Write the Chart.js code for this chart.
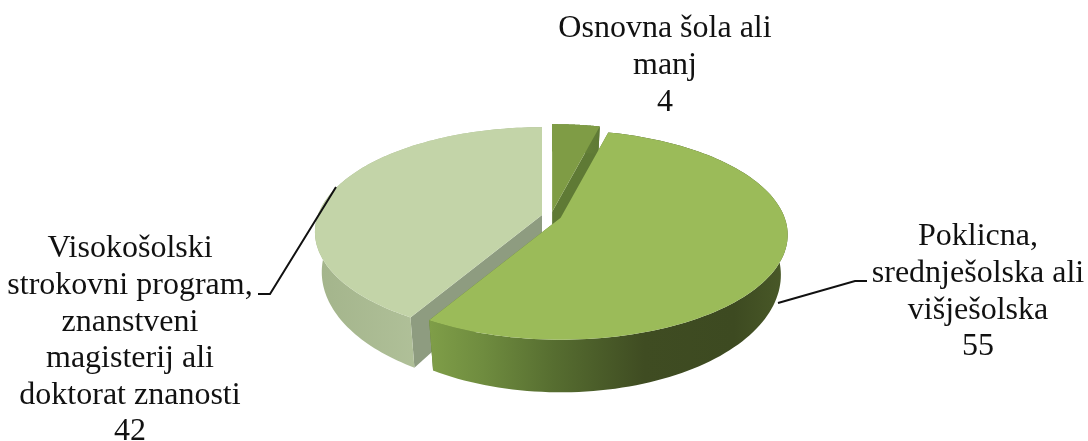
<!DOCTYPE html>
<html>
<head>
<meta charset="utf-8">
<style>
  html, body { margin: 0; padding: 0; background: #fff; }
  #wrap { width: 1088px; height: 441px; }
</style>
<script src="https://cdn.jsdelivr.net/npm/chart.js@4"></script>
</head>
<body>
<div id="wrap"><canvas id="pie" width="1088" height="441"></canvas></div>
<script>
const categories = ['Osnovna šola ali manj', 'Poklicna, srednješolska ali višješolska', 'Visokošolski strokovni program, znanstveni magisterij ali doktorat znanosti'];
const values = [4, 55, 42];
const labelLines = [
  ['Osnovna šola ali', 'manj'],
  ['Poklicna,', 'srednješolska ali', 'višješolska'],
  ['Visokošolski', 'strokovni program,', 'znanstveni', 'magisterij ali', 'doktorat znanosti']
];
const topColors = ['#7f9c45', '#9bbb59', '#c3d4a8'];
const faceColors = ['#5f7a35', '#5f7a35', '#8e9c80'];
const sideStops = [
  [[0, '#6d8a3c'], [1, '#5f7a35']],
  [[0, '#7f9e48'], [0.15, '#6f8c3f'], [0.35, '#566d30'], [0.6, '#3f4c22'], [0.85, '#3d4a21'], [1, '#4a5a28']],
  [[0, '#a3b48b'], [0.6, '#b4c49d'], [1, '#a6b692']]
];
const explode = [9, 10, 9];

// where each label block sits and where its leader line runs
const labelPos = [
  { x: 665, y: 29 },
  { x: 978, y: 237 },
  { x: 130, y: 249 }
];
const leaders = [
  null,
  [[778, 303], [855, 281], [867, 281]],
  [[336, 187], [270, 294], [258, 294]]
];

// tilted pie with a bit of perspective
const view = { cx: 551, cy: 216, a: 224, b: 102, p: 0.163, depth: 38, kx: 0.97, ky: 1.12 };
const lineHeight = 36.6;

function project(u, v, bottom){
  const w = 1 - view.p * v;
  const X = view.a * u / w;
  const Y = view.b * v / w;
  return bottom
    ? [X * view.kx, Y * view.ky + view.depth]
    : [X, Y];
}

function rimPoint(ox, oy, angle, bottom){
  // apex of an exploded slice is moved in the disc plane, the rim moves with it on screen
  const [ax, ay] = project(ox, oy, false);
  const [x, y] = project(Math.cos(angle), Math.sin(angle), bottom);
  return [view.cx + ax + x, view.cy + ay + y];
}

function apexPoint(ox, oy, bottom){
  const [ax, ay] = project(ox, oy, false);
  return [view.cx + ax, view.cy + ay + (bottom ? view.depth : 0)];
}

function tracePoly(ctx, pts, color){
  ctx.beginPath();
  pts.forEach((p, i) => i ? ctx.lineTo(p[0], p[1]) : ctx.moveTo(p[0], p[1]));
  ctx.closePath();
  ctx.fillStyle = color;
  ctx.fill();
}

function drawSlice(ctx, arc, i){
  const start = arc.startAngle, end = arc.endAngle, mid = (start + end) / 2;
  const off = arc.options.offset / arc.outerRadius;
  const ox = off * Math.cos(mid), oy = off * Math.sin(mid);

  const top = [], low = [];
  const steps = 120;
  for(let s = 0; s <= steps; s++){
    const t = start + (end - start) * s / steps;
    top.push(rimPoint(ox, oy, t, false));
    low.push(rimPoint(ox, oy, t, true));
  }
  const apex = apexPoint(ox, oy, false), apexLow = apexPoint(ox, oy, true);

  // cut faces first, then the outer wall, the top last
  tracePoly(ctx, [apex, top[0], low[0], apexLow], faceColors[i]);
  tracePoly(ctx, [apex, top[steps], low[steps], apexLow], faceColors[i]);

  const xs = top.concat(low).map(p => p[0]);
  const minX = Math.min(...xs), maxX = Math.max(...xs);
  const grad = ctx.createLinearGradient(minX, 0, maxX, 0);
  sideStops[i].forEach(s => grad.addColorStop(s[0], s[1]));
  tracePoly(ctx, top.concat(low.slice().reverse()), grad);

  tracePoly(ctx, [apex].concat(top), topColors[i]);
}

const pie3d = {
  id: 'pie3d',
  beforeDatasetsDraw(chart){
    const ctx = chart.ctx;
    const arcs = chart.getDatasetMeta(0).data;
    ctx.save();
    // back slices first, the big front slice overlaps them
    [0, 2, 1].forEach(i => drawSlice(ctx, arcs[i], i));
    ctx.restore();
    return false;
  },
  afterDraw(chart){
    const ctx = chart.ctx;
    ctx.save();
    ctx.fillStyle = '#111';
    ctx.strokeStyle = '#111';
    ctx.lineWidth = 2;
    ctx.font = '32px "Liberation Serif"';
    ctx.textAlign = 'center';
    ctx.textBaseline = 'middle';
    labelLines.forEach((lines, i) => {
      const pos = labelPos[i];
      lines.concat(String(values[i])).forEach((line, n) => {
        ctx.fillText(line, pos.x, pos.y + n * lineHeight);
      });
      if(leaders[i]){
        ctx.beginPath();
        leaders[i].forEach((p, k) => k ? ctx.lineTo(p[0], p[1]) : ctx.moveTo(p[0], p[1]));
        ctx.stroke();
      }
    });
    ctx.restore();
  }
};

new Chart(document.getElementById('pie'), {
  type: 'pie',
  data: {
    labels: categories,
    datasets: [{ data: values, backgroundColor: topColors, offset: explode, borderWidth: 0 }]
  },
  options: {
    responsive: false,
    animation: false,
    plugins: { legend: { display: false }, tooltip: { enabled: false } }
  },
  plugins: [pie3d]
});
</script>
</body>
</html>
